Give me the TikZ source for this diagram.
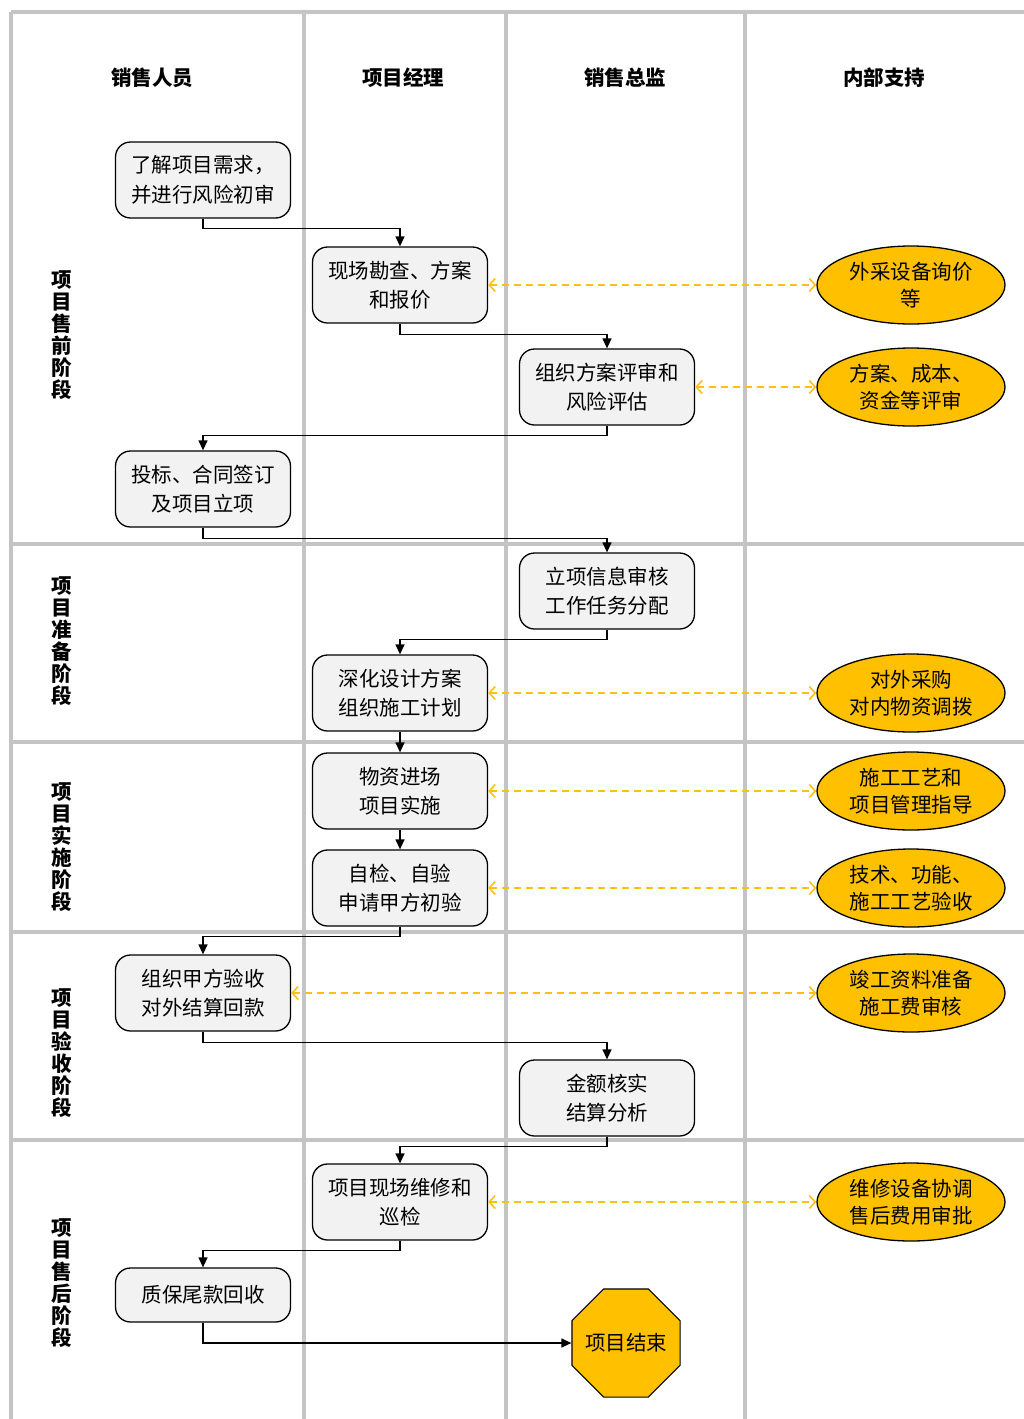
\documentclass[tikz,border=0pt]{standalone}
\usepackage{fontspec}
\setmainfont{Noto Sans CJK SC}
\usetikzlibrary{arrows.meta,shapes.geometric,calc}
\definecolor{gridc}{RGB}{196,196,196}
\definecolor{boxfill}{RGB}{242,242,242}
\definecolor{gold}{RGB}{255,192,0}
\definecolor{dashc}{RGB}{255,192,20}
\begin{document}
\begin{tikzpicture}[x=1pt,y=-1pt,
  gridline/.style={draw=gridc,line width=3.5pt},
  stepbox/.style={draw=black,fill=boxfill,rounded corners=15pt,line width=1.3pt,
    minimum width=175pt,minimum height=76pt,inner sep=0pt,align=center,
    font=\fontsize{20.5}{29.5}\selectfont},
  support/.style={ellipse,draw=black,fill=gold,line width=1.3pt,
    minimum width=188pt,minimum height=78pt,inner sep=0pt,align=center,
    font=\fontsize{20.5}{26.5}\selectfont},
  header/.style={font=\fontsize{20.5}{24}\selectfont\bfseries},
  phase/.style={align=center,font=\fontsize{20.5}{22}\selectfont\bfseries,inner sep=0pt},
  flow/.style={draw=black,line width=1.3pt,-{Triangle[length=10pt,width=9pt]}},
  assist/.style={draw=dashc,line width=1.6pt,dash pattern=on 7pt off 5pt,
    {Straight Barb[length=6pt,width=13pt]}-{Straight Barb[length=6pt,width=13pt]}}
]
\useasboundingbox (0,0) rectangle (1024,1419);
% grid
\draw[gridline] (11,12) -- (1024,12);
\foreach \yy in {544,742,932,1140} \draw[gridline] (11,\yy) -- (1024,\yy);
\foreach \xx in {11,304,506,745} \draw[gridline] (\xx,12) -- (\xx,1419);
% headers
\node[header] (h1) at (152,78) {销售人员};
\node[header] (h2) at (403,78) {项目经理};
\node[header] (h3) at (625,78) {销售总监};
\node[header] (h4) at (884,78) {内部支持};
% phases
\node[phase] (p1) at (62,335) {项\\目\\售\\前\\阶\\段};
\node[phase] (p2) at (62,641) {项\\目\\准\\备\\阶\\段};
\node[phase] (p3) at (62,847) {项\\目\\实\\施\\阶\\段};
\node[phase] (p4) at (62,1053) {项\\目\\验\\收\\阶\\段};
\node[phase] (p5) at (62,1283) {项\\目\\售\\后\\阶\\段};
% boxes
\node[stepbox] (b1) at (203,180) {了解项目需求，\\并进行风险初审};
\node[stepbox] (b2) at (400,285) {现场勘查、方案\\和报价};
\node[stepbox] (b3) at (607,387) {组织方案评审和\\风险评估};
\node[stepbox] (b4) at (203,489) {投标、合同签订\\及项目立项};
\node[stepbox] (b5) at (607,591) {立项信息审核\\工作任务分配};
\node[stepbox] (b6) at (400,693) {深化设计方案\\组织施工计划};
\node[stepbox] (b7) at (400,791) {物资进场\\项目实施};
\node[stepbox] (b8) at (400,888) {自检、自验\\申请甲方初验};
\node[stepbox] (b9) at (203,993) {组织甲方验收\\对外结算回款};
\node[stepbox] (b10) at (607,1098) {金额核实\\结算分析};
\node[stepbox] (b11) at (400,1202) {项目现场维修和\\巡检};
\node[stepbox,minimum height=54pt] (b12) at (203,1295) {质保尾款回收};
\node[regular polygon,regular polygon sides=8,minimum size=117pt,inner sep=0pt,
  draw=black,fill=gold,line width=1.1pt,font=\fontsize{20.5}{24}\selectfont] (end) at (626,1343) {\makebox[0pt]{项目结束}};
% support ellipses
\node[support] (e1) at (911,285) {外采设备询价\\等};
\node[support] (e2) at (911,387) {方案、成本、\\资金等评审};
\node[support] (e3) at (911,693) {对外采购\\对内物资调拨};
\node[support] (e4) at (911,791) {施工工艺和\\项目管理指导};
\node[support] (e5) at (911,888) {技术、功能、\\施工工艺验收};
\node[support] (e6) at (911,993) {竣工资料准备\\施工费审核};
\node[support] (e7) at (911,1202) {维修设备协调\\售后费用审批};
% flow
\draw[flow] (b1.south) -- ++(0,10) -| (b2.north);
\draw[flow] (b2.south) -- ++(0,11) -| (b3.north);
\draw[flow] (b3.south) -- ++(0,10) -| (b4.north);
\draw[flow] (b4.south) -- ++(0,11) -| (b5.north);
\draw[flow] (b5.south) -- ++(0,10) -| (b6.north);
\draw[flow] (b6.south) -- (b7.north);
\draw[flow] (b7.south) -- (b8.north);
\draw[flow] (b8.south) -- ++(0,10) -| (b9.north);
\draw[flow] (b9.south) -- ++(0,11) -| (b10.north);
\draw[flow] (b10.south) -- ++(0,10) -| (b11.north);
\draw[flow] (b11.south) -- ++(0,10) -| (b12.north);
\draw[flow] (b12.south) |- (end.west);
% assists
\draw[assist] (b2.east) -- (e1.west);
\draw[assist] (b3.east) -- (e2.west);
\draw[assist] (b6.east) -- (e3.west);
\draw[assist] (b7.east) -- (e4.west);
\draw[assist] (b8.east) -- (e5.west);
\draw[assist] (b9.east) -- (e6.west);
\draw[assist] (b11.east) -- (e7.west);
\end{tikzpicture}
\end{document}
